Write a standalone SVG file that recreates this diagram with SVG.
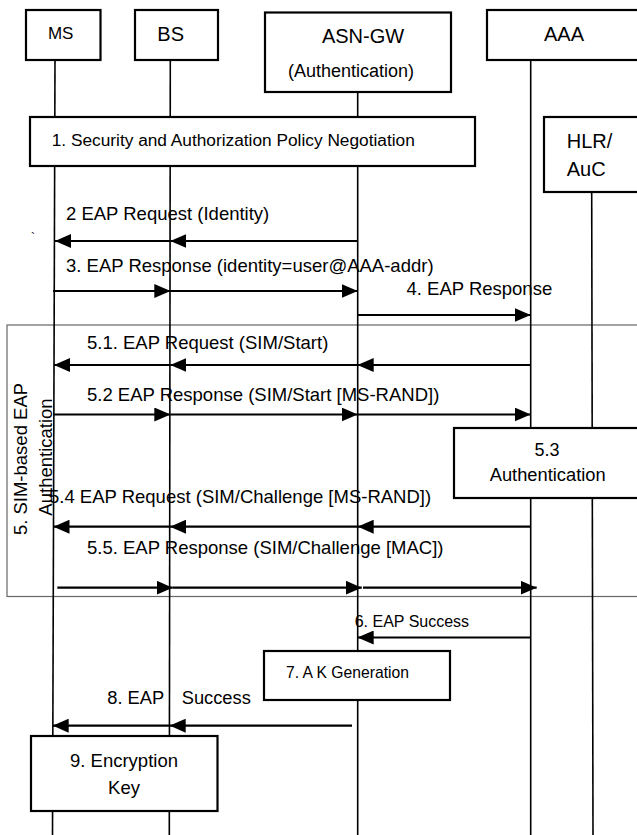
<svg xmlns="http://www.w3.org/2000/svg" width="637" height="835" viewBox="0 0 637 835">
<style>
text { font-family: "Liberation Sans", Arial, sans-serif; fill: #000; }
.box { fill: #fff; stroke: #000; stroke-width: 2.2; }
.life { stroke: #000; stroke-width: 1.6; fill: none; }
.msg { stroke: #000; stroke-width: 2.2; fill: none; marker-end: url(#ah); }
.lbl { font-size: 18.5px; }
.grp { fill: none; stroke: #666; stroke-width: 1.2; }
.mid { text-anchor: middle; }
</style>
<defs>
<marker id="ah" markerUnits="userSpaceOnUse" markerWidth="16" markerHeight="14" refX="16" refY="7" orient="auto"><path d="M0,0 L16,7 L0,14 Z" fill="#000"/></marker>
</defs>
<rect x="0" y="0" width="637" height="835" fill="#fff"/>

<g id="sim-group">
<rect class="grp" x="7" y="325" width="640" height="271.5"/>
<text transform="translate(26.5,459) rotate(-90)" class="mid" font-size="18.5">5. SIM-based EAP</text>
<text transform="translate(52,457) rotate(-90)" class="mid" font-size="18.5">Authentication</text>
</g>

<g id="ms">
<line class="life" x1="55" y1="60" x2="52.5" y2="835"/>
<rect class="box" x="26" y="10" width="74.5" height="50"/>
<text x="60.7" y="39" class="mid" font-size="17">MS</text>
</g>
<g id="bs">
<line class="life" x1="170.3" y1="60" x2="169.3" y2="835"/>
<rect class="box" x="135" y="10" width="83" height="50"/>
<text x="170.7" y="41" class="mid" font-size="20">BS</text>
</g>
<g id="asn-gw">
<line class="life" x1="357.7" y1="92" x2="357.7" y2="835"/>
<rect class="box" x="265" y="12.5" width="186" height="79.5"/>
<text x="363" y="43" class="mid" font-size="20">ASN-GW</text>
<text x="351" y="77" class="mid" font-size="18">(Authentication)</text>
</g>
<g id="aaa">
<line class="life" x1="530.7" y1="60" x2="530.7" y2="835"/>
<rect class="box" x="487" y="10" width="160" height="50"/>
<text x="544" y="41" font-size="20">AAA</text>
</g>
<g id="hlr-auc">
<line class="life" x1="591.7" y1="192" x2="593" y2="835"/>
<rect class="box" x="544" y="117" width="100" height="75"/>
<text x="566.7" y="148" font-size="20">HLR/</text>
<text x="566.7" y="176" font-size="20">AuC</text>
</g>

<g id="step1">
<rect class="box" x="30" y="117" width="445" height="49"/>
<text x="51.7" y="146" font-size="17.3">1. Security and Authorization Policy Negotiation</text>
</g>
<g id="step53">
<rect class="box" x="454" y="428" width="190" height="70"/>
<text x="547" y="456" class="mid" font-size="18">5.3</text>
<text x="547.7" y="481" class="mid" font-size="18.3">Authentication</text>
</g>
<g id="step7">
<rect class="box" x="264" y="651" width="186" height="49"/>
<text x="286" y="677.5" font-size="15.7">7. A K Generation</text>
</g>
<g id="step9">
<rect class="box" x="31" y="736" width="186.5" height="75"/>
<text x="124" y="767" class="mid" font-size="18.5">9. Encryption</text>
<text x="124" y="794" class="mid" font-size="18.5">Key</text>
</g>

<g id="connectors">
<text x="31" y="242" font-size="12">`</text>
<text class="lbl" x="66" y="220">2 EAP Request (Identity)</text>
<line class="msg" x1="357.7" y1="241" x2="170.3" y2="241"/>
<line class="msg" x1="170.3" y1="241" x2="55" y2="241"/>

<text class="lbl" x="66" y="272">3. EAP Response (identity=user@AAA-addr)</text>
<line class="msg" x1="53" y1="291" x2="170.3" y2="291"/>
<line class="msg" x1="170.3" y1="291" x2="357.7" y2="291"/>

<text class="lbl" x="406.5" y="295">4. EAP Response</text>
<line class="msg" x1="357.7" y1="315" x2="530.7" y2="315"/>

<text class="lbl" x="87" y="349">5.1. EAP Request (SIM/Start)</text>
<line class="msg" x1="530.7" y1="365" x2="357.7" y2="365"/>
<line class="msg" x1="357.7" y1="365" x2="170.3" y2="365"/>
<line class="msg" x1="170.3" y1="365" x2="54" y2="365"/>

<text class="lbl" x="87" y="401">5.2 EAP Response (SIM/Start [MS-RAND])</text>
<line class="msg" x1="54" y1="414.5" x2="170.3" y2="414.5"/>
<line class="msg" x1="170.3" y1="414.5" x2="357.7" y2="414.5"/>
<line class="msg" x1="357.7" y1="414.5" x2="530.7" y2="414.5"/>

<text class="lbl" x="49" y="503">5.4 EAP Request (SIM/Challenge [MS-RAND])</text>
<line class="msg" x1="530.7" y1="526.7" x2="357.7" y2="526.7"/>
<line class="msg" x1="357.7" y1="526.7" x2="170" y2="526.7"/>
<line class="msg" x1="170" y1="526.7" x2="53.5" y2="526.7"/>

<text class="lbl" x="87" y="554">5.5. EAP Response (SIM/Challenge [MAC])</text>
<line class="msg" x1="57.3" y1="587.7" x2="172.7" y2="587.7"/>
<line class="msg" x1="172.7" y1="587.7" x2="361.8" y2="587.7"/>
<line class="msg" x1="363" y1="587.7" x2="536.7" y2="587.7"/>

<text x="354.7" y="627" font-size="16">6. EAP Success</text>
<line class="msg" x1="530.7" y1="637.5" x2="357.7" y2="637.5"/>

<text x="107.3" y="703.5" font-size="18.3">8. EAP<tspan x="181.7">Success</tspan></text>
<line class="msg" x1="352" y1="725.7" x2="169.7" y2="725.7"/>
<line class="msg" x1="169.7" y1="725.7" x2="52.7" y2="725.7"/>
</g>
</svg>
